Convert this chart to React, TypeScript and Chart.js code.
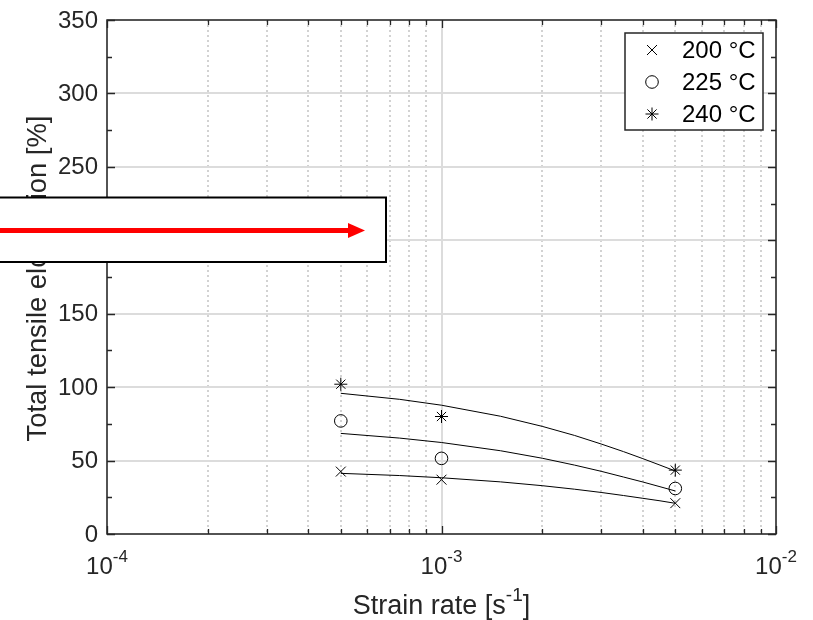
import React, { useEffect, useRef } from 'react';
import { Chart, registerables } from 'chart.js';

Chart.register(...registerables);

// ---- data ----
const strainRates = [5e-4, 1e-3, 5e-3];
const elong200 = [42.5, 37, 21];
const elong225 = [77, 51.5, 31];
const elong240 = [102, 80, 43.5];

const fitRates = [0.5e-3, 0.75e-3, 1e-3, 1.5e-3, 2e-3, 2.5e-3, 3e-3, 3.5e-3, 4e-3, 4.5e-3, 5e-3];
const fit200 = [41.3, 39.8, 38.3, 35.5, 32.9, 30.5, 28.3, 26.2, 24.3, 22.6, 20.9];
const fit225 = [68.5, 65.3, 62.3, 56.7, 51.6, 46.9, 42.7, 38.8, 35.4, 32.2, 29.3];
const fit240 = [95.8, 91.7, 87.7, 80.2, 73.3, 67.1, 61.3, 56.1, 51.3, 46.9, 42.9];

const legendLabels = ['200 °C', '225 °C', '240 °C'];
const legendStyles = ['crossRot', 'circle', 'star'];

const xMajorTicks = [1e-4, 1e-3, 1e-2];
const xTickExponents = ['-4', '-3', '-2'];
const xMinorTicks = [
  2e-4, 3e-4, 4e-4, 5e-4, 6e-4, 7e-4, 8e-4, 9e-4,
  2e-3, 3e-3, 4e-3, 5e-3, 6e-3, 7e-3, 8e-3, 9e-3,
];
const yTicks = [0, 50, 100, 150, 200, 250, 300, 350];
const yMinorTicks = [25, 75, 125, 175, 225, 275, 325];

const xTitle = 'Strain rate [s';
const xTitleSup = '-1';
const xTitleEnd = ']';
const yTitle = 'Total tensile elongation [%]';

const FONT = '"Liberation Sans", Arial, Helvetica, sans-serif';
const TEXT = '#262626';

function pts(xs: number[], ys: number[]) {
  return xs.map((x, i) => ({ x, y: ys[i] }));
}

function drawMarker(ctx: CanvasRenderingContext2D, style: string, x: number, y: number) {
  ctx.save();
  ctx.strokeStyle = '#000';
  ctx.lineWidth = 1;
  ctx.beginPath();
  if (style === 'circle') {
    ctx.arc(x, y, 6.3, 0, Math.PI * 2);
  } else if (style === 'crossRot') {
    const d = 5;
    ctx.moveTo(x - d, y - d); ctx.lineTo(x + d, y + d);
    ctx.moveTo(x - d, y + d); ctx.lineTo(x + d, y - d);
  } else {
    const r = 6.5, d = r * Math.SQRT1_2;
    ctx.moveTo(x - r, y); ctx.lineTo(x + r, y);
    ctx.moveTo(x, y - r); ctx.lineTo(x, y + r);
    ctx.moveTo(x - d, y - d); ctx.lineTo(x + d, y + d);
    ctx.moveTo(x - d, y + d); ctx.lineTo(x + d, y - d);
  }
  ctx.stroke();
  ctx.restore();
}

const matlabPlugin = {
  id: 'matlabLook',
  beforeDatasetsDraw(chart: any) {
    const { ctx, chartArea: a, scales } = chart;
    const xs = scales.x, ys = scales.y;
    ctx.save();
    // minor dotted vertical grid
    ctx.strokeStyle = '#c4c4c4';
    ctx.lineWidth = 1.5;
    ctx.setLineDash([2, 3]);
    for (const v of xMinorTicks) {
      const px = Math.round(xs.getPixelForValue(v));
      ctx.beginPath(); ctx.moveTo(px, a.top); ctx.lineTo(px, a.bottom); ctx.stroke();
    }
    ctx.setLineDash([]);
    ctx.strokeStyle = '#dcdcdc';
    ctx.lineWidth = 2;
    for (const v of xMajorTicks) {
      const px = Math.round(xs.getPixelForValue(v));
      ctx.beginPath(); ctx.moveTo(px, a.top); ctx.lineTo(px, a.bottom); ctx.stroke();
    }
    for (const v of yTicks) {
      const py = Math.round(ys.getPixelForValue(v));
      ctx.beginPath(); ctx.moveTo(a.left, py); ctx.lineTo(a.right, py); ctx.stroke();
    }
    ctx.restore();
  },
  afterDatasetsDraw(chart: any) {
    const { ctx, chartArea: a, scales } = chart;
    const xs = scales.x, ys = scales.y;
    ctx.save();
    // frame
    ctx.strokeStyle = TEXT;
    ctx.lineWidth = 1.5;
    ctx.strokeRect(a.left, a.top, a.right - a.left, a.bottom - a.top);
    // ticks
    ctx.lineWidth = 1.3;
    const tickX = (v: number, len: number) => {
      const px = Math.round(xs.getPixelForValue(v)) + 0.5;
      ctx.beginPath();
      ctx.moveTo(px, a.bottom); ctx.lineTo(px, a.bottom - len);
      ctx.moveTo(px, a.top); ctx.lineTo(px, a.top + len);
      ctx.stroke();
    };
    const tickY = (v: number, len: number) => {
      const py = Math.round(ys.getPixelForValue(v)) + 0.5;
      ctx.beginPath();
      ctx.moveTo(a.left, py); ctx.lineTo(a.left + len, py);
      ctx.moveTo(a.right, py); ctx.lineTo(a.right - len, py);
      ctx.stroke();
    };
    xMajorTicks.forEach((v) => tickX(v, 8));
    xMinorTicks.forEach((v) => tickX(v, 5));
    yTicks.forEach((v) => tickY(v, 8));
    yMinorTicks.forEach((v) => tickY(v, 5));

    // y tick labels
    ctx.fillStyle = TEXT;
    ctx.font = `24px ${FONT}`;
    ctx.textAlign = 'right';
    ctx.textBaseline = 'middle';
    for (const v of yTicks) {
      ctx.fillText(String(v), a.left - 9, ys.getPixelForValue(v) + 1);
    }
    // x tick labels 10^n
    ctx.textAlign = 'left';
    ctx.textBaseline = 'alphabetic';
    xMajorTicks.forEach((v, i) => {
      const px = xs.getPixelForValue(v);
      ctx.font = `24px ${FONT}`;
      const w1 = ctx.measureText('10').width;
      ctx.font = `17px ${FONT}`;
      const w2 = ctx.measureText(xTickExponents[i]).width;
      const start = px - (w1 + w2) / 2;
      ctx.font = `24px ${FONT}`;
      ctx.fillText('10', start, a.bottom + 40);
      ctx.font = `17px ${FONT}`;
      ctx.fillText(xTickExponents[i], start + w1, a.bottom + 28);
    });
    // x title
    {
      ctx.font = `27px ${FONT}`;
      const w1 = ctx.measureText(xTitle).width;
      const w3 = ctx.measureText(xTitleEnd).width;
      ctx.font = `19px ${FONT}`;
      const w2 = ctx.measureText(xTitleSup).width;
      const cx = (a.left + a.right) / 2;
      const start = cx - (w1 + w2 + w3) / 2;
      ctx.font = `27px ${FONT}`;
      ctx.fillText(xTitle, start, a.bottom + 80);
      ctx.fillText(xTitleEnd, start + w1 + w2, a.bottom + 80);
      ctx.font = `19px ${FONT}`;
      ctx.fillText(xTitleSup, start + w1, a.bottom + 67);
    }
    // y title
    ctx.save();
    ctx.translate(38, 278.5);
    ctx.rotate(-Math.PI / 2);
    ctx.font = `27.4px ${FONT}`;
    ctx.textAlign = 'center';
    ctx.textBaseline = 'middle';
    ctx.fillText(yTitle, 0, 0);
    ctx.restore();

    // legend
    const lx = 625, ly = 33, lw = 138, lh = 97;
    ctx.fillStyle = '#fff';
    ctx.fillRect(lx, ly, lw, lh);
    ctx.strokeStyle = TEXT;
    ctx.lineWidth = 1.5;
    ctx.strokeRect(lx, ly, lw, lh);
    ctx.fillStyle = '#000';
    ctx.font = `24px ${FONT}`;
    ctx.textAlign = 'left';
    ctx.textBaseline = 'middle';
    legendLabels.forEach((lab, i) => {
      const yy = ly + 17 + i * 32;
      drawMarker(ctx, legendStyles[i], 652, yy);
      ctx.fillText(lab, 682, yy + 1);
    });

    // overlay box with red arrow
    ctx.fillStyle = '#fff';
    ctx.fillRect(-2, 197, 388, 65);
    ctx.strokeStyle = '#000';
    ctx.lineWidth = 2;
    ctx.strokeRect(-2, 197.5, 388, 64.5);
    ctx.strokeStyle = '#ff0000';
    ctx.lineWidth = 5;
    ctx.beginPath();
    ctx.moveTo(0, 230.5); ctx.lineTo(350, 230.5);
    ctx.stroke();
    ctx.fillStyle = '#ff0000';
    ctx.beginPath();
    ctx.moveTo(348, 223); ctx.lineTo(365, 230.5); ctx.lineTo(348, 238);
    ctx.closePath();
    ctx.fill();
    ctx.restore();
  },
};

export default function App() {
  const ref = useRef<HTMLCanvasElement | null>(null);
  useEffect(() => {
    if (!ref.current) return;
    const fitDs = (data: number[]) => ({
      data: pts(fitRates, data),
      showLine: true,
      borderColor: '#000',
      borderWidth: 1,
      pointRadius: 0,
      tension: 0,
      fill: false,
    });
    const markDs = (data: number[], style: string, r: number) => ({
      data: pts(strainRates, data),
      showLine: false,
      pointStyle: style,
      pointRadius: r,
      pointBorderWidth: 1,
      borderColor: '#000',
      backgroundColor: 'rgba(0,0,0,0)',
      pointBackgroundColor: 'rgba(0,0,0,0)',
      pointBorderColor: '#000',
    });
    const chart = new Chart(ref.current, {
      type: 'scatter',
      data: {
        datasets: [
          fitDs(fit200) as any,
          fitDs(fit225) as any,
          fitDs(fit240) as any,
          markDs(elong200, 'crossRot', 7) as any,
          markDs(elong225, 'circle', 6.3) as any,
          markDs(elong240, 'star', 6.5) as any,
        ],
      },
      options: {
        responsive: false,
        animation: false,
        devicePixelRatio: 1,
        layout: { padding: { left: 107, top: 20, right: 37, bottom: 86 } },
        plugins: { legend: { display: false }, tooltip: { enabled: false } },
        scales: {
          x: { type: 'logarithmic', min: 1e-4, max: 1e-2, display: false },
          y: { type: 'linear', min: 0, max: 350, display: false },
        },
      },
      plugins: [matlabPlugin],
    });
    return () => chart.destroy();
  }, []);
  return (
    <div style={{ position: 'fixed', left: 0, top: 0, width: 813, height: 620, background: '#fff' }}>
      <canvas ref={ref} width={813} height={620} />
    </div>
  );
}
